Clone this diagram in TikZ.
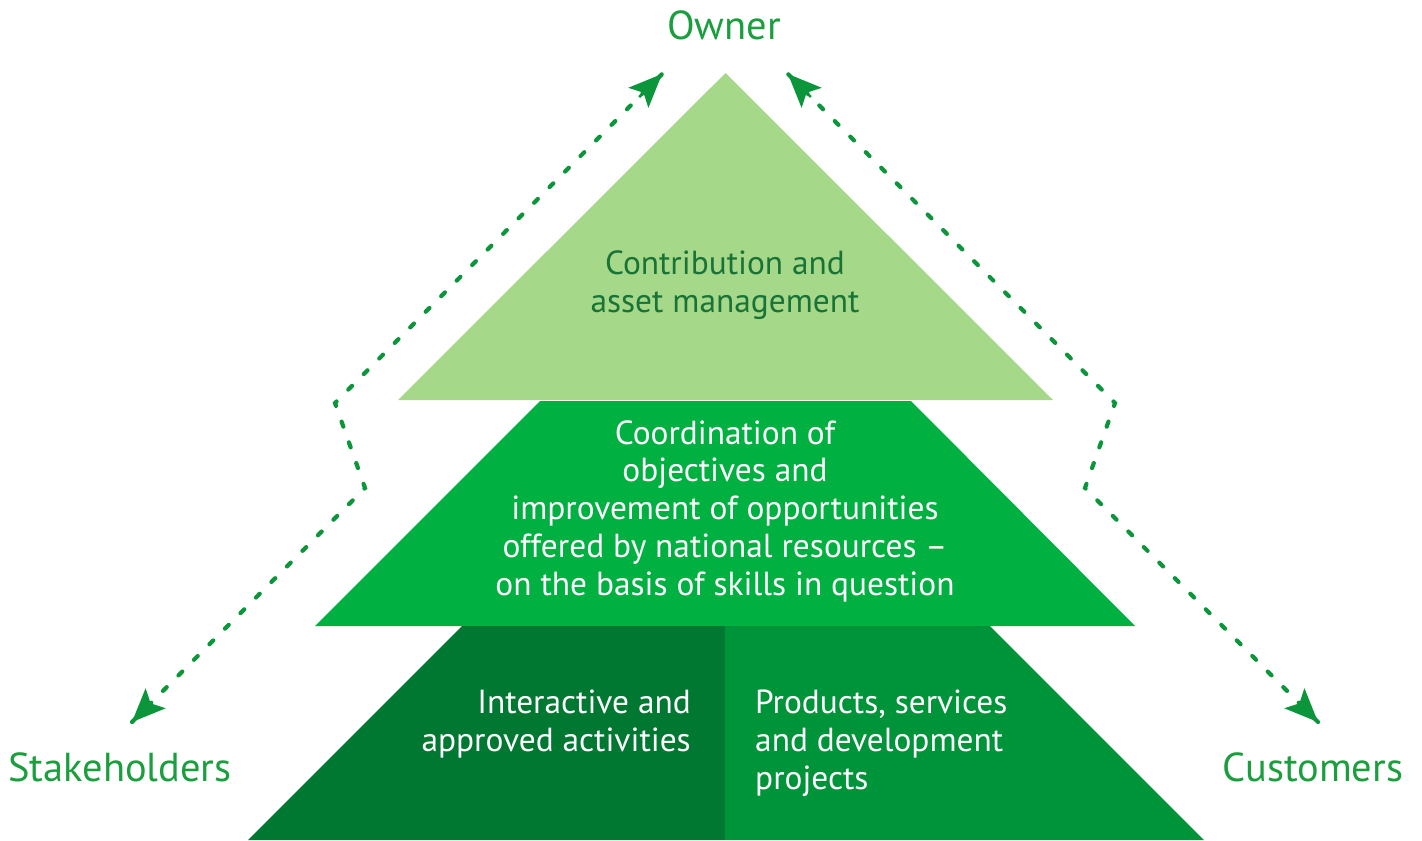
\documentclass[tikz,border=0pt]{standalone}
\usepackage{fontspec}
\setmainfont{PT Sans}
\usetikzlibrary{arrows.meta,calc}

\definecolor{tierlight}{RGB}{165,216,137}
\definecolor{tiermid}{RGB}{0,176,64}
\definecolor{tierdark}{RGB}{0,120,50}
\definecolor{tierdeep}{RGB}{0,148,58}
\definecolor{labelgreen}{RGB}{26,158,62}
\definecolor{linkgreen}{RGB}{12,150,60}
\definecolor{toptext}{RGB}{25,115,55}

\begin{document}
\begin{tikzpicture}[x=0.02cm,y=-0.02cm,
                    font=\fontsize{19}{21.5}\selectfont]
  \tikzstyle{tier text}=[align=center,text=white]
  \tikzstyle{party}=[text=labelgreen,font=\fontsize{23}{26}\selectfont]
  \tikzstyle{link}=[linkgreen,line width=2.4pt,line cap=round,
                    dash pattern=on 3pt off 9.5pt]
  \tikzstyle{tip}=[-{Stealth[length=19pt,width=16pt,inset=4pt]},
                   linkgreen,line width=1.5pt,solid]

  \useasboundingbox (0,0) rectangle (1422,840);

  % pyramid tiers
  \fill[tierlight] (725.5,73) -- (1053,400) -- (398,400) -- cycle;
  \fill[tiermid]   (540,401) -- (911,401) -- (1135,626) -- (315,626) -- cycle;
  \fill[tierdark]  (462,626) -- (725,626) -- (725,840) -- (248,840) -- cycle;
  \fill[tierdeep]  (725,626) -- (990,626) -- (1204,840) -- (725,840) -- cycle;

  % tier captions
  \node[align=center,text=toptext] (asset) at (725,285)
    {Contribution and\\asset management};
  \node[tier text] (coord) at (725,511)
    {Coordination of\\objectives and\\improvement of opportunities\\offered by national resources --\\on the basis of skills in question};
  \node[tier text,align=right,anchor=north east] (activ) at (697,684)
    {Interactive and\\approved activities};
  \node[tier text,align=left,anchor=north west] (prod) at (749,684)
    {Products, services\\and development\\projects};

  % parties round the pyramid
  \node[party] (owner)  at (724,25)  {Owner};
  \node[party] (stake)  at (120,767) {Stakeholders};
  \node[party] (cust)   at (1313,767) {Customers};

  \coordinate (ownL)   at (662,74);
  \coordinate (ownR)   at (788,74);
  \coordinate (stakeA) at (132,722);
  \coordinate (custA)  at (1318,722);
  \coordinate (bendL1) at (335,403);
  \coordinate (bendL2) at (365,488);
  \coordinate (bendR1) at (1115,403);
  \coordinate (bendR2) at (1085,488);

  % dotted links, tips drawn solid on top
  \draw[link] (stakeA) -- (bendL2) -- (bendL1) -- (ownL);
  \draw[link] (custA) -- (bendR2) -- (bendR1) -- (ownR);
  \draw[tip] ($(ownL)!0.07!(bendL1)$) -- (ownL);
  \draw[tip] ($(stakeA)!0.07!(bendL2)$) -- (stakeA);
  \draw[tip] ($(ownR)!0.07!(bendR1)$) -- (ownR);
  \draw[tip] ($(custA)!0.07!(bendR2)$) -- (custA);

\end{tikzpicture}
\end{document}
